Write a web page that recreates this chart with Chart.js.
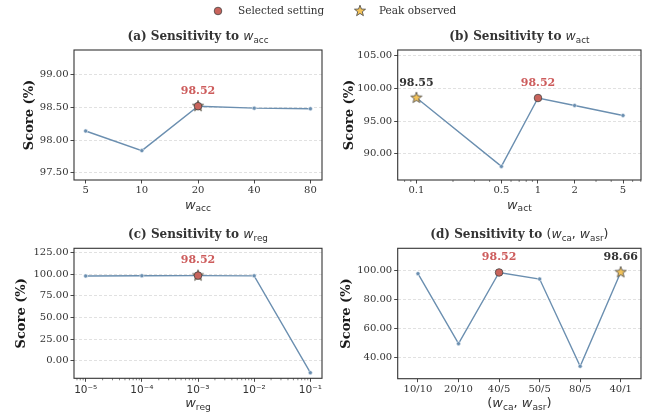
<!DOCTYPE html>
<html>
<head>
<meta charset="utf-8">
<script src="https://cdn.jsdelivr.net/npm/chart.js@4.4.0/dist/chart.umd.min.js"></script>
<style>
  html, body { margin: 0; padding: 0; background: #fff; }
  #fig { position: relative; width: 648px; height: 415px; overflow: hidden; }
  #fig canvas { position: absolute; left: 0; top: 0; }
</style>
</head>
<body>
<div id="fig">
  <canvas id="cA" width="648" height="415"></canvas>
  <canvas id="cB" width="648" height="415"></canvas>
  <canvas id="cC" width="648" height="415"></canvas>
  <canvas id="cD" width="648" height="415"></canvas>
</div>
<script>
// (a) w_acc
const accX = [5, 10, 20, 40, 80];
const accY = [98.14, 97.84, 98.52, 98.49, 98.48];
const accTickLabels = ['5', '10', '20', '40', '80'];
const accYTicks = [97.5, 98.0, 98.5, 99.0];

// (b) w_act
const actX = [0.1, 0.5, 1, 2, 5];
const actY = [98.55, 88.05, 98.52, 97.38, 95.85];
const actTickLabels = ['0.1', '0.5', '1', '2', '5'];
const actYTicks = [90, 95, 100, 105];

// (c) w_reg
const regX = [1e-5, 1e-4, 1e-3, 1e-2, 1e-1];
const regY = [98.0, 98.3, 98.52, 98.2, -13.9];
const regTickLabels = ['10\u207B\u2075', '10\u207B\u2074', '10\u207B\u00B3', '10\u207B\u00B2', '10\u207B\u00B9'];
const regYTicks = [0, 25, 50, 75, 100, 125];

// (d) (w_ca, w_asr)
const pairLabels = ['10/10', '20/10', '40/5', '50/5', '80/5', '40/1'];
const pairY = [97.7, 49.4, 98.52, 94.0, 33.8, 98.66];
const pairYTicks = [40, 60, 80, 100];

const SERIF = '"DejaVu Serif", serif';
const SANS = '"DejaVu Sans", sans-serif';
const INK = '#333333';
const LINE = '#6b8fb0';
const RED = '#c9645c';
const RED_TEXT = '#cd5c5c';
const GOLD = '#f3c35a';

function starPath(ctx, x, y, R, r) {
  ctx.beginPath();
  for (let i = 0; i < 10; i++) {
    const rad = i % 2 ? r : R;
    const a = -Math.PI / 2 + i * Math.PI / 5;
    const px = x + rad * Math.cos(a), py = y + rad * Math.sin(a);
    if (i) ctx.lineTo(px, py); else ctx.moveTo(px, py);
  }
  ctx.closePath();
}

function drawStar(ctx, x, y, R) {
  starPath(ctx, x, y, R, R * 0.42);
  ctx.fillStyle = GOLD;
  ctx.fill();
  ctx.lineWidth = 0.8;
  ctx.strokeStyle = '#444';
  ctx.stroke();
}

function makeStar(R) {
  const c = document.createElement('canvas');
  const s = 2 * Math.ceil(R) + 4;
  c.width = c.height = s;
  drawStar(c.getContext('2d'), s / 2, s / 2, R);
  return c;
}
const starImg = makeStar(5.8);

// rich text: parts of {t, f, dy}
function drawRich(ctx, parts, cx, y) {
  let w = 0;
  parts.forEach(p => { ctx.font = p.f; p.w = ctx.measureText(p.t).width; w += p.w; });
  let x = cx - w / 2;
  ctx.textAlign = 'left';
  ctx.textBaseline = 'alphabetic';
  ctx.fillStyle = INK;
  parts.forEach(p => { ctx.font = p.f; ctx.fillText(p.t, x, y + (p.dy || 0)); x += p.w; });
}
const T = s => ({ t: s, f: `bold 12px ${SERIF}` });
const M = (s, z) => ({ t: s, f: `italic ${z}px ${SANS}` });
const N = (s, z) => ({ t: s, f: `${z}px ${SANS}` });
const S = (s, z) => ({ t: s, f: `${(z * 0.7).toFixed(1)}px ${SANS}`, dy: z * 0.2 });

function minorTicks(lo, hi) {
  const out = [];
  for (let e = Math.floor(Math.log10(lo)); e <= Math.ceil(Math.log10(hi)); e++) {
    for (let m = 2; m <= 9; m++) {
      const v = m * Math.pow(10, e);
      if (v >= lo && v <= hi) out.push(v);
    }
  }
  return out;
}

const deco = {
  id: 'deco',
  afterDraw(chart, args, o) {
    const { ctx, chartArea: a } = chart;
    const xs = chart.scales.x;
    ctx.save();
    ctx.strokeStyle = '#333';
    ctx.lineWidth = 1.1;
    ctx.strokeRect(a.left, a.top, a.right - a.left, a.bottom - a.top);

    if (o.minor) {
      ctx.lineWidth = 0.6;
      ctx.beginPath();
      o.minor.forEach(v => {
        const px = xs.getPixelForValue(v);
        ctx.moveTo(px, a.bottom);
        ctx.lineTo(px, a.bottom + 2);
      });
      ctx.stroke();
    }

    const cx = (a.left + a.right) / 2;
    drawRich(ctx, o.title, cx, a.top - 10);
    drawRich(ctx, o.xlabel, cx, a.bottom + 28.7);

    const pts = chart.getDatasetMeta(0).data;
    o.labels.forEach(l => {
      const el = pts[l.i];
      ctx.font = `bold 11px ${SERIF}`;
      ctx.fillStyle = l.color;
      ctx.textAlign = 'center';
      ctx.textBaseline = 'middle';
      ctx.fillText(l.text, el.x, el.y - 15);
    });

    if (o.legend) {
      ctx.beginPath();
      ctx.arc(218, 11, 3.8, 0, Math.PI * 2);
      ctx.fillStyle = RED;
      ctx.fill();
      ctx.lineWidth = 0.8;
      ctx.strokeStyle = '#444';
      ctx.stroke();
      drawStar(ctx, 360, 11, 5.8);
      ctx.font = `10.5px ${SERIF}`;
      ctx.fillStyle = INK;
      ctx.textAlign = 'left';
      ctx.textBaseline = 'middle';
      ctx.fillText('Selected setting', 238, 11);
      ctx.fillText('Peak observed', 379, 11);
    }
    ctx.restore();
  }
};

function panel(id, p) {
  const pts = p.x.map((x, i) => ({ x, y: p.y[i] }));
  const peak = p.y.indexOf(Math.max(...p.y));
  const labels = [{ i: p.sel, color: RED_TEXT, text: p.y[p.sel].toFixed(2) }];
  if (peak !== p.sel) labels.push({ i: peak, color: INK, text: p.y[peak].toFixed(2) });

  const tickFont = { family: p.sansTicks ? SANS : SERIF, size: p.sansTicks ? 10.5 : 10 };
  const xGrid = { drawOnChartArea: false, tickColor: '#333', tickLength: 3.5, tickWidth: 0.9 };
  const x = p.log ? {
    type: 'logarithmic', min: p.xMin, max: p.xMax,
    afterBuildTicks: s => { s.ticks = p.x.map(v => ({ value: v })); },
    afterFit: s => { s.height = 27; },
    ticks: { callback: (v, i) => p.tickLabels[i], autoSkip: false, maxRotation: 0, font: tickFont, color: INK, padding: p.sansTicks ? 2 : 1 },
    grid: xGrid, border: { display: false }
  } : {
    type: 'category', offset: true,
    afterFit: s => { s.height = 27; },
    ticks: { autoSkip: false, maxRotation: 0, font: tickFont, color: INK, padding: 1 },
    grid: Object.assign({ offset: false }, xGrid), border: { display: false }
  };

  return new Chart(document.getElementById(id), {
    type: 'line',
    data: {
      labels: p.log ? undefined : p.x,
      datasets: [
        { data: pts, borderColor: LINE, borderWidth: 1.4, tension: 0, order: 3,
          pointRadius: 2, pointBackgroundColor: LINE, pointBorderColor: '#e6edf4', pointBorderWidth: 0.6 },
        { data: [pts[peak]], pointStyle: starImg, pointRadius: 6, showLine: false, order: 2 },
        { data: [pts[p.sel]], pointStyle: 'circle', pointRadius: 3.8, pointBackgroundColor: RED,
          pointBorderColor: '#444', pointBorderWidth: 0.8, showLine: false, order: 1 }
      ]
    },
    options: {
      responsive: false, animation: false, devicePixelRatio: 1, events: [],
      layout: { padding: p.pad },
      plugins: {
        legend: { display: false }, tooltip: { enabled: false },
        deco: { title: p.title, xlabel: p.xlabel, labels, minor: p.minor, legend: p.legend }
      },
      scales: {
        x,
        y: {
          min: p.yMin, max: p.yMax,
          afterBuildTicks: s => { s.ticks = p.yTicks.map(v => ({ value: v })); },
          afterFit: s => { s.width = p.yWidth; },
          ticks: { callback: v => v.toFixed(2), font: { family: SERIF, size: 10 }, color: INK, padding: 2 },
          grid: { color: '#d9d9d9', lineWidth: 0.8, tickColor: '#333', tickLength: 3.5, tickWidth: 0.9, tickBorderDash: [] },
          border: { display: false, dash: [3, 2] },
          title: { display: true, text: 'Score (%)', color: '#1a1a1a',
            font: { family: SERIF, size: 13, weight: 'bold' }, padding: { top: p.ylPad, bottom: 0 } }
        }
      }
    },
    plugins: [deco]
  });
}

panel('cA', {
  x: accX, y: accY, sel: 2, log: true, xMin: 4.33, xMax: 92.3, tickLabels: accTickLabels,
  yTicks: accYTicks, yMin: 97.39, yMax: 99.38, yWidth: 74, ylPad: 21.5,
  pad: { left: 0, right: 326, top: 50, bottom: 208 }, legend: true,
  title: [T('(a) Sensitivity to '), M('w', 12.5), S('acc', 12.5)],
  xlabel: [M('w', 13), S('acc', 13)]
});

panel('cB', {
  x: actX, y: actY, sel: 2, log: true, xMin: 0.0702, xMax: 7.03, tickLabels: actTickLabels,
  minor: minorTicks(0.0702, 7.03).filter(v => !actX.some(t => Math.abs(t - v) < 1e-9)),
  yTicks: actYTicks, yMin: 85.97, yMax: 105.87, yWidth: 73.7, ylPad: 17.5,
  pad: { left: 324, right: 3, top: 50, bottom: 208 },
  title: [T('(b) Sensitivity to '), M('w', 12.5), S('act', 12.5)],
  xlabel: [M('w', 13), S('act', 13)]
});

panel('cC', {
  x: regX, y: regY, sel: 2, log: true, xMin: 6.19e-6, xMax: 0.1614, tickLabels: regTickLabels, sansTicks: true,
  minor: minorTicks(6.19e-6, 0.1614),
  yTicks: regYTicks, yMin: -20.4, yMax: 130.1, yWidth: 74, ylPad: 13.9,
  pad: { left: 0, right: 326, top: 248.3, bottom: 9.7 },
  title: [T('(c) Sensitivity to '), M('w', 12.5), S('reg', 12.5)],
  xlabel: [M('w', 13), S('reg', 13)]
});

panel('cD', {
  x: pairLabels, y: pairY, sel: 2, log: false,
  yTicks: pairYTicks, yMin: 25.2, yMax: 115.2, yWidth: 73.7, ylPad: 14.9,
  pad: { left: 324, right: 3, top: 248.3, bottom: 9.3 },
  title: [T('(d) Sensitivity to '), N('(', 12.5), M('w', 12.5), S('ca', 12.5), N(', ', 12.5), M('w', 12.5), S('asr', 12.5), N(')', 12.5)],
  xlabel: [N('(', 13), M('w', 13), S('ca', 13), N(', ', 13), M('w', 13), S('asr', 13), N(')', 13)]
});
</script>
</body>
</html>
